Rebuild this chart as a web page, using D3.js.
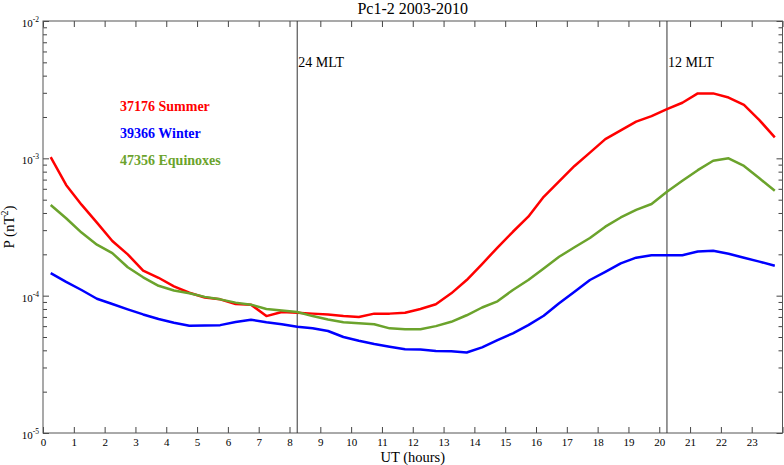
<!DOCTYPE html>
<head>
  <title>Pc1-2 2003-2010</title>
  <meta charset="utf-8">
  <script src="https://d3js.org/d3.v7.min.js"></script>
  <style>
    body { margin: 0; background: #fff; }
    svg { display: block; font-family: "Liberation Serif", "Times New Roman", serif; }
    .axis line { stroke: #444; }
    .axis text { font-size: 11px; fill: #000; font-family: "Liberation Serif", serif; }
    .frame { fill: none; stroke: #555; stroke-width: 1; }
    .series { fill: none; stroke-width: 2.5; stroke-linejoin: round; }
    .mlt { stroke: #333; stroke-width: 1; }
  </style>
</head>
<body>
<div class="container"></div>
<script>
'use strict';
var width = 784;
var height = 465;

// UT hour of each bin (half-hour bins)
var ut = [0.25, 0.75, 1.25, 1.75, 2.25, 2.75, 3.25, 3.75, 4.25, 4.75, 5.25, 5.75,
  6.25, 6.75, 7.25, 7.75, 8.25, 8.75, 9.25, 9.75, 10.25, 10.75, 11.25, 11.75,
  12.25, 12.75, 13.25, 13.75, 14.25, 14.75, 15.25, 15.75, 16.25, 16.75, 17.25, 17.75,
  18.25, 18.75, 19.25, 19.75, 20.25, 20.75, 21.25, 21.75, 22.25, 22.75, 23.25, 23.75];

var summer = [1.02e-3, 6.4e-4, 4.6e-4, 3.4e-4, 2.5e-4, 2.0e-4, 1.52e-4, 1.35e-4, 1.17e-4, 1.05e-4, 9.7e-5, 9.4e-5,
  8.7e-5, 8.6e-5, 7.1e-5, 7.6e-5, 7.5e-5, 7.4e-5, 7.3e-5, 7.1e-5, 7.0e-5, 7.4e-5, 7.4e-5, 7.5e-5,
  8.0e-5, 8.65e-5, 1.04e-4, 1.3e-4, 1.7e-4, 2.24e-4, 2.92e-4, 3.76e-4, 5.25e-4, 6.8e-4, 8.8e-4, 1.1e-3,
  1.38e-3, 1.6e-3, 1.85e-3, 2.03e-3, 2.28e-3, 2.54e-3, 2.97e-3, 2.97e-3, 2.77e-3, 2.45e-3, 1.9e-3, 1.42e-3];

var winter = [1.46e-4, 1.26e-4, 1.10e-4, 9.5e-5, 8.7e-5, 7.95e-5, 7.3e-5, 6.76e-5, 6.35e-5, 6.04e-5, 6.07e-5, 6.1e-5,
  6.43e-5, 6.68e-5, 6.4e-5, 6.2e-5, 5.94e-5, 5.8e-5, 5.53e-5, 5.0e-5, 4.7e-5, 4.45e-5, 4.25e-5, 4.07e-5,
  4.05e-5, 3.95e-5, 3.93e-5, 3.86e-5, 4.2e-5, 4.75e-5, 5.32e-5, 6.1e-5, 7.14e-5, 8.8e-5, 1.07e-4, 1.3e-4,
  1.49e-4, 1.72e-4, 1.89e-4, 1.97e-4, 1.97e-4, 1.97e-4, 2.1e-4, 2.12e-4, 2.02e-4, 1.89e-4, 1.77e-4, 1.65e-4];

var equinox = [4.57e-4, 3.66e-4, 2.88e-4, 2.35e-4, 2.04e-4, 1.61e-4, 1.36e-4, 1.18e-4, 1.09e-4, 1.04e-4, 9.8e-5, 9.4e-5,
  8.9e-5, 8.6e-5, 8.0e-5, 7.8e-5, 7.6e-5, 7.1e-5, 6.7e-5, 6.4e-5, 6.3e-5, 6.2e-5, 5.78e-5, 5.7e-5,
  5.7e-5, 6.0e-5, 6.45e-5, 7.2e-5, 8.2e-5, 9.1e-5, 1.1e-4, 1.3e-4, 1.58e-4, 1.92e-4, 2.25e-4, 2.63e-4,
  3.18e-4, 3.71e-4, 4.21e-4, 4.65e-4, 5.71e-4, 6.87e-4, 8.2e-4, 9.6e-4, 1.0e-3, 8.8e-4, 7.16e-4, 5.8e-4];

var seriesNames = ['37176 Summer', '39366 Winter', '47356 Equinoxes'];
var seriesColors = ['#ff0000', '#0000ff', '#6ba32c'];

var xTicks = d3.range(0, 25);
var decades = [-5, -4, -3, -2];

var mltLines = [8.25, 20.25];
var mltLabels = ['24 MLT', '12 MLT'];

var margin = { top: 21, right: 1.5, bottom: 32, left: 43 };

var svg = d3.select('.container')
  .append('svg')
  .attr('width', width)
  .attr('height', height);

var x = d3.scaleLinear().domain([0, 24]).range([margin.left, width - margin.right]);
var y = d3.scaleLog().domain([1e-5, 1e-2]).range([height - margin.bottom, margin.top]);

// minor + major ticks for log axis
var yTicks = [];
decades.slice(0, 3).forEach(function (e) {
  for (var k = 1; k < 10; k++) yTicks.push(k * Math.pow(10, e));
});
yTicks.push(1e-2);
function isMajor(v) { return Math.abs(Math.log10(v) - Math.round(Math.log10(v))) < 1e-6; }

// x axes
svg.append('g').attr('class', 'axis')
  .attr('transform', 'translate(0,' + y.range()[0] + ')')
  .call(d3.axisBottom(x).tickValues(xTicks).tickSizeInner(-6).tickSizeOuter(0).tickPadding(5)
    .tickFormat(function (d) { return d < 24 ? d : ''; }))
  .call(function (g) { g.select('.domain').remove(); });

svg.append('g').attr('class', 'axis')
  .attr('transform', 'translate(0,' + y.range()[1] + ')')
  .call(d3.axisTop(x).tickValues(xTicks).tickSizeInner(-6).tickSizeOuter(0).tickFormat(''))
  .call(function (g) { g.select('.domain').remove(); });

// y axes
var left = svg.append('g').attr('class', 'axis')
  .attr('transform', 'translate(' + x.range()[0] + ',0)')
  .call(d3.axisLeft(y).tickValues(yTicks).tickSizeInner(-4).tickSizeOuter(0).tickFormat(''))
  .call(function (g) { g.select('.domain').remove(); });
left.selectAll('.tick line').attr('x2', function (d) { return isMajor(d) ? 6 : 4; });

var right = svg.append('g').attr('class', 'axis')
  .attr('transform', 'translate(' + x.range()[1] + ',0)')
  .call(d3.axisRight(y).tickValues(yTicks).tickSizeInner(-4).tickSizeOuter(0).tickFormat(''))
  .call(function (g) { g.select('.domain').remove(); });
right.selectAll('.tick line').attr('x2', function (d) { return isMajor(d) ? -6 : -4; });

// 10^n labels
var yl = svg.append('g').selectAll('text')
  .data(decades)
  .enter().append('text')
  .attr('x', x.range()[0] - 4)
  .attr('y', function (d) { return y(Math.pow(10, d)) + 6; })
  .attr('text-anchor', 'end')
  .style('font-size', '11px');
yl.append('tspan').text('10');
yl.append('tspan').attr('dy', -5).style('font-size', '7.5px').text(function (d) { return d; });

// frame
svg.append('rect').attr('class', 'frame')
  .attr('x', x.range()[0]).attr('y', y.range()[1])
  .attr('width', x.range()[1] - x.range()[0])
  .attr('height', y.range()[0] - y.range()[1]);

// MLT markers
svg.selectAll('line.mlt')
  .data(mltLines)
  .enter().append('line')
  .attr('class', 'mlt')
  .attr('x1', function (d) { return x(d); }).attr('x2', function (d) { return x(d); })
  .attr('y1', y.range()[1]).attr('y2', y.range()[0]);

svg.selectAll('text.mltlab')
  .data(mltLines)
  .enter().append('text')
  .attr('class', 'mltlab')
  .attr('x', function (d) { return x(d) + 1; })
  .attr('y', 67)
  .style('font-size', '14px')
  .text(function (d, i) { return mltLabels[i]; });

// series lines
var line = d3.line()
  .x(function (d, i) { return x(ut[i]); })
  .y(function (d) { return y(d); });

svg.selectAll('path.series')
  .data([summer, winter, equinox])
  .enter().append('path')
  .attr('class', 'series')
  .attr('stroke', function (d, i) { return seriesColors[i]; })
  .attr('d', line);

// legend
svg.selectAll('text.legend')
  .data(seriesNames)
  .enter().append('text')
  .attr('class', 'legend')
  .attr('x', 120)
  .attr('y', function (d, i) { return 111 + i * 27; })
  .attr('fill', function (d, i) { return seriesColors[i]; })
  .style('font-size', '14px')
  .style('font-weight', 'bold')
  .text(function (d) { return d; });

// title and axis titles
svg.append('text')
  .attr('x', (x.range()[0] + x.range()[1]) / 2)
  .attr('y', 14)
  .attr('text-anchor', 'middle')
  .style('font-size', '16px')
  .text('Pc1-2 2003-2010');

svg.append('text')
  .attr('x', (x.range()[0] + x.range()[1]) / 2)
  .attr('y', 462)
  .attr('text-anchor', 'middle')
  .style('font-size', '14.5px')
  .text('UT (hours)');

var ylab = svg.append('text')
  .attr('transform', 'translate(14,' + (y.range()[0] + y.range()[1]) / 2 + ') rotate(-90)')
  .attr('text-anchor', 'middle')
  .style('font-size', '15px');
ylab.append('tspan').text('P (nT');
ylab.append('tspan').attr('dy', -6).style('font-size', '10px').text('2');
ylab.append('tspan').attr('dy', 6).text(')');
</script>
</body>
